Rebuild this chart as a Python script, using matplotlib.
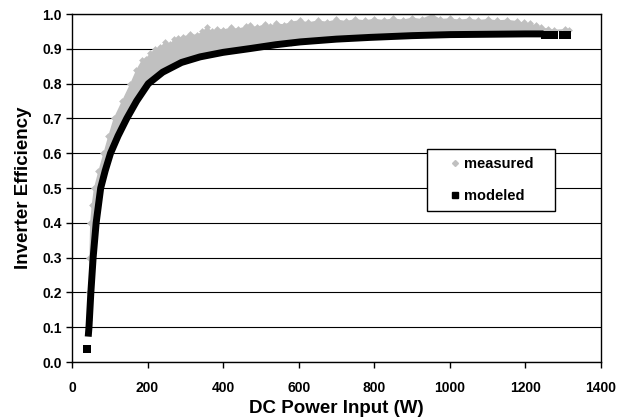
import matplotlib
matplotlib.use("Agg")
import matplotlib.pyplot as plt
from matplotlib.lines import Line2D
from matplotlib.patches import Rectangle

plt.rcParams['font.family'] = ['Liberation Sans', 'DejaVu Sans']

# modeled efficiency curve
mod_power = [43, 45, 50, 56, 64, 76, 88, 102, 122, 145, 171, 202, 240, 290,
             339, 400, 472, 540, 604, 700, 789, 900, 1001, 1100, 1200, 1248]
mod_eff = [0.073, 0.10, 0.20, 0.30, 0.40, 0.50, 0.55, 0.60, 0.65, 0.70, 0.75,
           0.80, 0.833, 0.861, 0.877, 0.89, 0.901, 0.912, 0.92, 0.928, 0.933,
           0.938, 0.941, 0.942, 0.943, 0.943]
# isolated modeled points
mod_pts_power = [41, 1252, 1260, 1268, 1276, 1300, 1309]
mod_pts_eff = [0.036, 0.941, 0.941, 0.941, 0.941, 0.941, 0.941]

# measured: upper edge of the scatter band
meas_power = [44, 45, 46, 48, 52, 58, 70, 83, 96, 110, 132, 154, 170, 185,
              195, 207, 220, 233, 246, 260, 270, 280, 295, 313, 330, 345, 357,
              370, 385, 400, 420, 440, 460, 472, 490, 510, 525, 540, 560, 580,
              604, 625, 650, 675, 700, 725, 750, 775, 800, 825, 850, 875, 900,
              925, 953, 975, 1000, 1025, 1050, 1075, 1100, 1125, 1150, 1178,
              1195, 1213, 1228, 1240, 1260, 1275, 1305, 1315]
meas_eff = [0.12, 0.20, 0.30, 0.40, 0.45, 0.50, 0.55, 0.60, 0.65, 0.70, 0.75,
            0.80, 0.84, 0.868, 0.872, 0.888, 0.90, 0.905, 0.92, 0.915, 0.928,
            0.93, 0.935, 0.944, 0.94, 0.95, 0.963, 0.952, 0.958, 0.955, 0.962,
            0.958, 0.965, 0.968, 0.963, 0.972, 0.966, 0.975, 0.97, 0.978,
            0.983, 0.976, 0.982, 0.978, 0.985, 0.98, 0.986, 0.982, 0.987,
            0.983, 0.988, 0.984, 0.99, 0.986, 1.0, 0.986, 0.988, 0.984, 0.987,
            0.983, 0.986, 0.982, 0.984, 0.98, 0.976, 0.973, 0.968, 0.963,
            0.958, 0.955, 0.957, 0.955]
# a few stray measured points below the modeled curve
stray_power = [383, 580]
stray_eff = [0.905, 0.918]

legend_labels = ['measured', 'modeled']

fig = plt.figure(figsize=(6.28, 4.19), dpi=100)
ax = fig.add_axes([0.1146, 0.136, 0.8424, 0.8304])

gray = '#c0c0c0'
# measured band: upper edge down to the modeled curve
band_x = meas_power + mod_power[::-1]
band_y = meas_eff + mod_eff[::-1]
ax.fill(band_x, band_y, color=gray, lw=0, zorder=2)
ax.scatter(meas_power, meas_eff, marker='D', s=12, color=gray, lw=0, zorder=2)
ax.scatter(stray_power, stray_eff, marker='D', s=10, color=gray, lw=0, zorder=2)

# modeled curve
ax.plot(mod_power, mod_eff, color='black', lw=5, solid_capstyle='butt',
        solid_joinstyle='round', zorder=3)
ax.scatter(mod_pts_power, mod_pts_eff, marker='s', s=30, color='black', lw=0, zorder=3)

ax.set_xlim(0, 1400)
ax.set_ylim(0, 1.0)
ax.set_xticks(range(0, 1401, 200))
ax.set_yticks([i / 10 for i in range(11)])
ax.set_yticklabels(['%.1f' % (i / 10) for i in range(11)])
ax.yaxis.grid(True, color='black', lw=0.8)
ax.set_axisbelow(True)
for s in ax.spines.values():
    s.set_color('black')
    s.set_linewidth(1.0)
ax.tick_params(axis='both', direction='out', length=4, width=1, colors='black',
               labelsize=10)
ax.tick_params(axis='x', pad=10)
for lab in ax.get_xticklabels() + ax.get_yticklabels():
    lab.set_fontweight('bold')

ax.set_xlabel('DC Power Input (W)', fontsize=13.5, fontweight='bold', labelpad=3)
ax.set_ylabel('Inverter Efficiency', fontsize=13.5, fontweight='bold', labelpad=7)

# legend box
ax.add_patch(Rectangle((0.671, 0.434), 0.242, 0.178, transform=ax.transAxes,
                       facecolor='white', edgecolor='black', lw=1.0, zorder=5))
handles = [Line2D([], [], marker='D', ls='', color=gray, markersize=3),
           Line2D([], [], marker='s', ls='', color='black', markersize=4)]
leg = ax.legend(handles, legend_labels, loc='center',
                bbox_to_anchor=(0.792, 0.523), frameon=False,
                prop={'weight': 'bold', 'size': 10.5}, handlelength=0.8,
                handletextpad=0.2, labelspacing=1.25, borderpad=0)
leg.set_zorder(6)

fig.savefig('out.png', dpi=100)
